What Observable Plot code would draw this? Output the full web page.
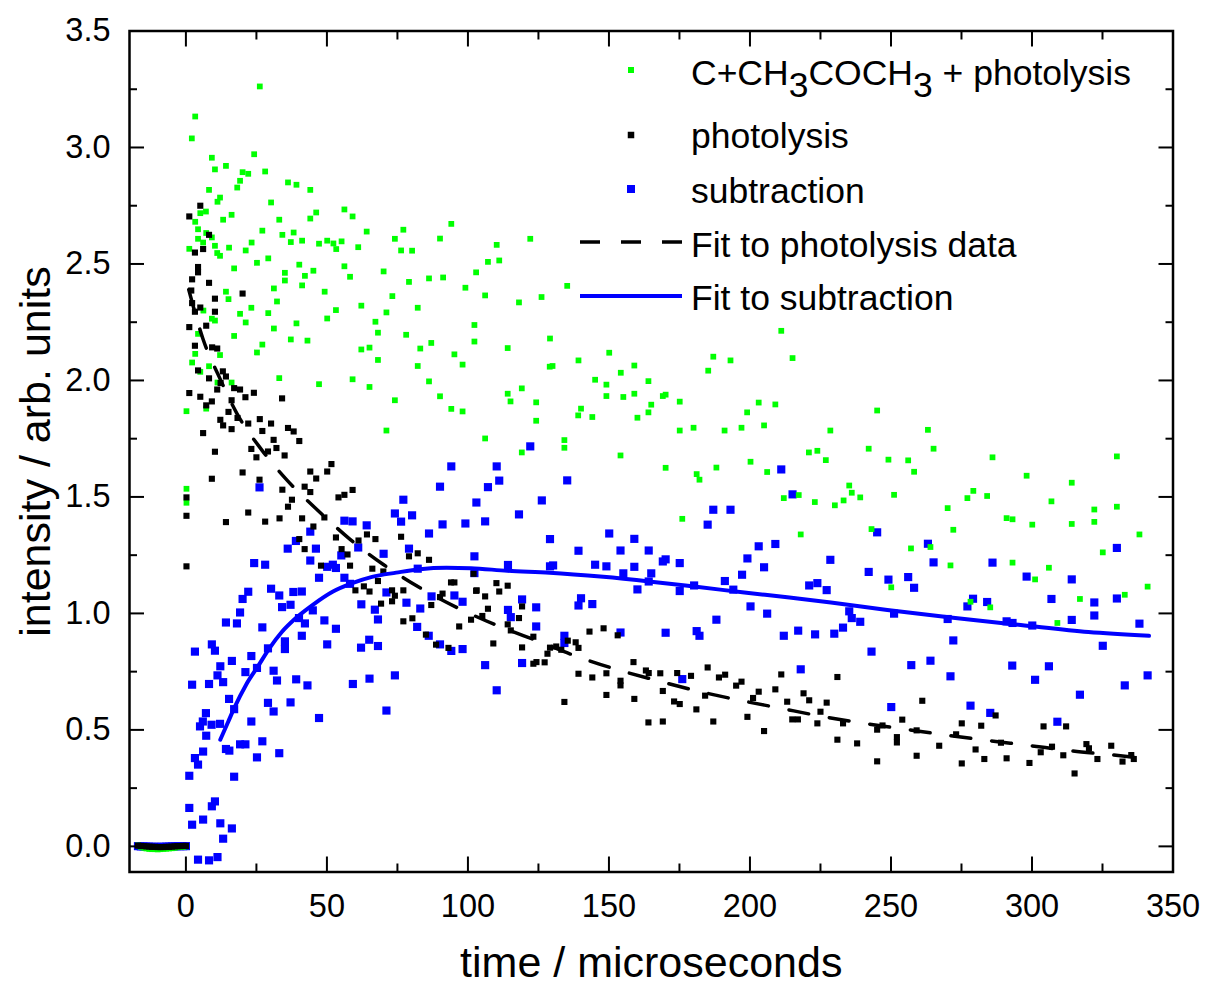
<!DOCTYPE html>
<html><head><meta charset="utf-8">
<script src="https://cdn.jsdelivr.net/npm/d3@7"></script>
<script src="https://cdn.jsdelivr.net/npm/@observablehq/plot@0.6"></script>
<style>
html,body{margin:0;padding:0;background:#fff;}
#chart{position:relative;width:1205px;height:986px;}
#chart svg{position:absolute;left:0;top:0;}
</style></head>
<body><div id="chart"></div>
<script>
// ---------- data (time in microseconds, intensity in arb. units) ----------
const seriesNames = ["C+CH3COCH3 + photolysis", "photolysis", "subtraction", "Fit to photolysis data", "Fit to subtraction"];

const xMajorTicks = [0, 50, 100, 150, 200, 250, 300, 350];
const xMinorTicks = [25, 75, 125, 175, 225, 275, 325];
const yMajorTicks = [0, 0.5, 1, 1.5, 2, 2.5, 3, 3.5];
const yMinorTicks = [0.25, 0.75, 1.25, 1.75, 2.25, 2.75, 3.25];

const baselineT = [-17,-16,-15,-14,-13,-12,-11,-10,-9,-8,-7,-6,-5,-4,-3,-2,-1,0];
const greenBase = [0.004,-0.002,-0.006,-0.009,-0.011,-0.012,-0.012,-0.013,-0.012,-0.011,-0.010,-0.009,-0.008,-0.006,-0.004,-0.003,-0.002,0.000];
const blackBase = [0.003,0.002,0.001,0.000,-0.001,-0.002,-0.002,-0.003,-0.003,-0.003,-0.002,-0.002,-0.001,0.000,0.001,0.001,0.002,0.002];
const blueBase  = [0.001,0.000,0.000,-0.001,-0.001,-0.002,-0.002,-0.002,-0.002,-0.002,-0.001,-0.001,0.000,0.000,0.001,0.001,0.001,0.001];

const greenPts = [
[26.2,3.262],[3.3,3.133],[2.1,3.039],[24.2,2.971],[9.2,2.956],[14.2,2.921],[10.3,2.906],[20.1,2.894],[22.1,2.887],[28.1,2.897],
[19.2,2.857],[18.2,2.828],[8.2,2.818],[36.2,2.85],[39.2,2.84],[44.1,2.818],[12.1,2.785],[11.2,2.767],[30.2,2.764],[7.1,2.725],
[5.1,2.718],[16.2,2.711],[13.2,2.69],[3.3,2.681],[33.1,2.69],[56.2,2.734],[59.1,2.704],[46.2,2.721],[44.1,2.695],[94.1,2.672],
[4.3,2.649],[27.1,2.643],[34.2,2.625],[38.2,2.635],[64.1,2.639],[77.1,2.647],[7.2,2.633],[9.2,2.614],[4.3,2.608],[6.1,2.592],
[23.3,2.592],[37.2,2.594],[41.2,2.6],[90.1,2.609],[74.1,2.608],[47.2,2.587],[50.1,2.6],[52.3,2.588],[55.2,2.597],[53.3,2.564],
[61.1,2.572],[10.3,2.578],[15.3,2.57],[21.2,2.558],[76.3,2.558],[80.2,2.557],[11.1,2.547],[12.1,2.535],[1.2,2.565],[25.2,2.505],
[29.2,2.524],[40.2,2.497],[17.1,2.481],[56.2,2.49],[35.1,2.462],[42.2,2.449],[45.2,2.471],[70.1,2.468],[102.9,2.464],[35.1,2.429],
[58.2,2.445],[79.1,2.423],[86.2,2.438],[91.2,2.442],[99.1,2.398],[41.2,2.408],[31.2,2.395],[14.2,2.381],[49.2,2.381],[15.1,2.349],
[73.2,2.362],[32.3,2.339],[62.2,2.321],[6.2,2.3],[23.2,2.312],[19.2,2.286],[29.2,2.289],[53.2,2.302],[71.1,2.292],[82.2,2.312],
[9.2,2.265],[10.3,2.257],[21.2,2.249],[39.2,2.245],[50.1,2.266],[67.2,2.252],[102.3,2.238],[31.2,2.223],[4.3,2.2],[17.1,2.191],
[37.2,2.176],[43.1,2.171],[68.1,2.205],[78.1,2.196],[102.3,2.167],[27.1,2.154],[62.2,2.133],[65.1,2.141],[83.1,2.137],[87,2.161],
[3.3,2.114],[12.1,2.109],[25.2,2.12],[68.1,2.088],[95.2,2.112],[2.2,2.077],[8.2,2.061],[82.2,2.062],[98.1,2.068],[5.1,2.037],
[33.1,2.01],[16.2,1.991],[11.2,1.991],[47.2,1.984],[59.1,2.005],[65.1,1.972],[86.2,1.996],[90.1,1.932],[74.1,1.915],[94.1,1.878],
[98.1,1.867],[0.2,1.868],[7.2,1.879],[71.1,1.785],[0.2,1.535],[0.2,1.475],
[110.2,2.582],[122.1,2.608],[107.1,2.509],[111.1,2.515],[106.1,2.365],[118.1,2.335],[126.1,2.358],[135.2,2.406],[114.1,2.139],[129.1,2.18],
[211.1,2.213],[150.1,2.119],[139.2,2.086],[187,2.102],[193.1,2.086],[215.1,2.096],[185.2,2.042],[129,2.059],[130,2.062],[159,2.064],
[154.2,2.033],[145.1,2.003],[149.1,1.982],[164,1.997],[114.1,1.943],[119.1,1.966],[115.1,1.91],[124.2,1.906],[149.1,1.933],[155.1,1.929],
[159,1.943],[169.1,1.933],[170.1,1.939],[175.1,1.909],[203.1,1.905],[209,1.897],[165,1.896],[164,1.863],[199,1.863],[140.1,1.879],
[139.1,1.85],[144.1,1.843],[160.1,1.84],[124.2,1.827],[175.1,1.785],[180,1.797],[191,1.785],[197,1.797],[205,1.807],[228.5,1.785],
[106.1,1.751],[134.2,1.744],[134.2,1.711],[119.1,1.691],[154.1,1.678],[220.9,1.691],[223.9,1.698],[226.9,1.658],[200.2,1.651],[170.1,1.625],
[188.1,1.626],[206.1,1.607],[181.1,1.598],[182.1,1.574],[217.3,1.508],[212,1.495],[223,1.478],[176,1.406],[218,1.339],
[245.1,1.871],[242.1,1.707],[249.1,1.66],[256.1,1.657],[258.2,1.608],[263.1,1.788],[265.1,1.707],[286,1.67],[330.1,1.674],[298.1,1.591],
[314.1,1.561],[235.2,1.549],[236.1,1.518],[239.1,1.498],[233.2,1.485],[230.1,1.464],[251.1,1.509],[270.1,1.452],[277.1,1.495],[279.2,1.526],
[284.1,1.504],[306.9,1.481],[322.1,1.446],[330.1,1.458],[291,1.409],[293.1,1.404],[300.1,1.381],[314.1,1.384],[322.1,1.393],[272.1,1.359],
[243.1,1.362],[338.1,1.339],[257.1,1.279],[264,1.285],[325.1,1.262],[271.1,1.206],[293.1,1.218],[306,1.196],[301.1,1.146],[250.1,1.112],
[341,1.115],[332.9,1.08],[317,1.062],[278.2,1.05],[285.2,1.026],[309,0.959]
];

const blackPts = [
[5.1,2.75],[1.2,2.704],[8.2,2.625],[3.2,2.549],[6.1,2.564],[4.3,2.487],[4.3,2.464],[2.2,2.434],[8.2,2.419],[1.9,2.386],
[2.2,2.332],[10.3,2.351],[20.1,2.373],[5.1,2.313],[3.2,2.295],[10.3,2.295],[1.2,2.229],[7.2,2.235],[3.2,2.149],[9.3,2.142],
[11.1,2.137],[4.3,2.043],[8.2,2.009],[13.1,2.039],[14.2,2.017],[12.3,1.989],[1.2,1.946],[5.1,1.93],[7.2,1.893],[9.2,1.91],
[17.1,1.967],[19.2,1.961],[24.1,1.947],[11.1,1.961],[16.2,1.915],[21.1,1.928],[34.1,1.923],[15.1,1.865],[12.2,1.831],[13.2,1.807],
[18.3,1.839],[22.1,1.815],[26.2,1.834],[30.2,1.815],[6.1,1.774],[16.2,1.791],[27.1,1.783],[36.2,1.796],[38.2,1.781],[40.2,1.74],
[31.1,1.745],[10.3,1.694],[23.2,1.706],[25,1.67],[29.1,1.695],[32.1,1.71],[35,1.678],
[0.2,1.498],[0.2,1.419],[0.2,1.202],[9.2,1.578],[20.1,1.605],[26.1,1.574],[44.1,1.609],[46.2,1.579],[50.1,1.609],[51.6,1.641],
[34.2,1.531],[42.1,1.544],[44.1,1.521],[37.6,1.488],[36.2,1.458],[22.1,1.433],[14.2,1.392],[28.1,1.394],[33.2,1.408],[41.2,1.408],
[54.1,1.498],[56.2,1.509],[59.1,1.53],[45.2,1.373],[49.1,1.412],[40.2,1.319],[42.1,1.276],[53.2,1.326],[55.2,1.276],[57.3,1.253],
[61.2,1.313],[64.2,1.339],[67.2,1.319],[76.3,1.329],[79.1,1.245],[82.2,1.258],[86.2,1.23],[47.9,1.205],[58.2,1.205],[66.1,1.192],
[70,1.18],[68.1,1.139],[60.1,1.099],[63.1,1.116],[65.1,1.094],[73.1,1.099],[74.1,1.076],[73.1,1.052],[77.1,1.099],[69.2,1.042],
[87,1.036],[90.1,1.07],[91,1.085],[94,1.133],[95.2,1.133],[102.9,1.097],[101.1,0.973],[96.9,0.944],[77.1,0.966],[80.3,0.979],
[85.1,0.909],[88.7,0.866],[93.1,0.852],
[102,1.17],[110.1,1.13],[114.1,1.119],[111.1,1.094],[103.1,1.099],[106.1,1.073],[105.1,0.989],[107.1,1.02],[118.1,0.98],[119.2,1.03],
[114.1,0.953],[115.2,0.927],[109,0.871],[119.2,0.854],[123.2,0.9],[129.1,0.853],[131.3,0.858],[133.1,0.844],[128.2,0.827],[135.4,0.883],
[138.2,0.876],[139.2,0.852],[123.2,0.784],[124.3,0.791],[127.2,0.79],[134.2,0.62],[139.2,0.741],[143.1,0.922],[148.1,0.936],[153.1,0.906],
[144.1,0.725],[149.1,0.743],[149.1,0.65],[154.1,0.711],[154.1,0.691],[159,0.633],[158.7,0.791],[163.1,0.755],[164.1,0.744],[168.2,0.743],
[169.1,0.667],[164,0.532],[169.1,0.536],[173.1,0.622],[175.1,0.611],[174.2,0.744],[179.1,0.732],[181,0.588],[185,0.768],[184.1,0.647],
[187,0.536],[189,0.725],[191.2,0.737],[195.1,0.69],[197,0.707],[199.1,0.556],[201.1,0.637],[203.1,0.664],[205,0.495],[209,0.674],
[211.1,0.738],[213.2,0.621],[215,0.545],[217,0.545],[219,0.657],[221,0.627],[223.9,0.528],[225,0.578],[227.2,0.617],
[231,0.727],[233,0.528],[231,0.458],[238,0.442],[247,0.519],[245.1,0.501],[245.1,0.365],[254,0.544],[252.1,0.469],[252.1,0.446],
[259.1,0.498],[259.1,0.389],[261.1,0.625],[267.1,0.432],[273.1,0.481],[275.1,0.528],[275.1,0.356],[280,0.416],[282,0.518],[283.1,0.375],
[287.1,0.562],[289,0.445],[291,0.378],[299.1,0.358],[303.1,0.404],[304.1,0.515],[307.1,0.428],[312.1,0.515],[311.1,0.391],[315.1,0.313],
[319.3,0.439],[320.2,0.421],[323.2,0.375],[328.1,0.432],[332.1,0.364],[335.2,0.392],[336.1,0.375]
];

const bluePts = [
[26.1,1.541],[36.1,1.278],[39,1.311],[44.1,1.351],[46.1,1.278],[44.1,1.227],[56.2,1.398],[59.1,1.395],[64.1,1.378],[55.1,1.249],
[50.1,1.2],[52.1,1.209],[53.2,1.195],[47.2,1.153],[56.2,1.153],[58.2,1.127],[61.1,1.283],[70.1,1.256],[77.1,1.488],[74.1,1.429],
[76.3,1.394],[80.2,1.421],[90.1,1.544],[94.1,1.631],[91,1.382],[86.2,1.343],[79.1,1.278],[82.2,1.192],[103,1.476],[99.1,1.386],
[102.3,1.245],[102.3,1.173],[71.1,1.09],[62.2,1.039],[67,1.016],[68.1,0.974],[78.2,1.046],[83.1,1.021],[87.1,1.073],[95.2,1.077],
[98.1,1.05],[82,0.942],[86.1,0.904],[90.1,0.867],[94.1,0.839],[98.1,0.847],[65,0.887],[62.1,0.853],[68.1,0.86],[50.1,0.867],
[41.1,0.904],[42.2,0.957],[49.1,0.97],[53.2,0.934],[45,1.013],[40.1,0.98],[37.1,1.037],[34.1,1.027],[33.1,1.077],[30.2,1.106],
[38.1,1.092],[41.1,1.094],[22.1,1.093],[20.1,1.062],[19.2,1.004],[14.2,0.961],[18.1,0.957],[27.1,0.94],[24.2,1.216],[28.1,1.209],
[35.1,0.88],[35.1,0.847],[29.1,0.85],[23.2,0.817],[9.2,0.867],[10.3,0.84],[3.2,0.836],[16.3,0.796],[12.2,0.773],[11.2,0.734],
[13.2,0.705],[8.2,0.697],[2.2,0.694],[21.1,0.748],[25.2,0.766],[31.1,0.754],[32.3,0.712],[39.1,0.717],[43.1,0.691],[59.2,0.697],
[65.1,0.72],[74.1,0.734],[15.3,0.633],[17.1,0.589],[29.1,0.616],[31.1,0.579],[37.1,0.618],[23.2,0.536],[47.2,0.551],[71.1,0.583],
[7.1,0.572],[6,0.536],[5,0.515],[9.1,0.522],[12.1,0.526],[7.2,0.475],[14.2,0.418],[15.4,0.411],[19.2,0.438],[21.1,0.438],
[27.1,0.451],[25.2,0.382],[33.1,0.4],[3.2,0.379],[6.1,0.407],[4.3,0.351],[1.2,0.303],[17.1,0.299],[1.2,0.165],[9.2,0.172],
[10.3,0.193],[2.2,0.093],[6.1,0.115],[12.2,0.099],[16.3,0.077],[13.2,0.033],[4.3,-0.057],[8.2,-0.06],[11.2,-0.046],
[122.1,1.717],[110.2,1.631],[111.1,1.57],[107.1,1.542],[106.1,1.395],[118.1,1.425],[126.2,1.485],[135.2,1.571],[211.1,1.618],[215.1,1.511],
[187,1.445],[193.1,1.445],[185,1.381],
[129.1,1.319],[150.1,1.343],[159,1.32],[139.2,1.269],[154.1,1.27],[164.1,1.27],[114.2,1.208],[129.1,1.202],[130.2,1.206],[145.1,1.209],
[149.1,1.202],[155.1,1.172],[159,1.2],[165,1.172],[164.1,1.137],[169.1,1.223],[170.1,1.232],[175.1,1.216],[160.1,1.103],[175.1,1.096],
[180.2,1.12],[191.1,1.139],[194.1,1.102],[197.2,1.166],[199.1,1.236],[203.1,1.288],[209,1.298],[205,1.198],[221,1.12],[223.9,1.13],
[227.2,1.1],[228.5,1.23],[119.2,1.06],[114.2,1.015],[115.2,0.984],[124.2,1.026],[124.2,0.944],[140.1,1.065],[139.2,1.034],[144.1,1.04],
[134.2,0.904],[134.2,0.873],[154.1,0.918],[170.1,0.917],[181.1,0.924],[182.1,0.904],[188.1,0.973],[200.2,1.03],[206.1,0.999],[212,0.904],
[217.1,0.926],[223.1,0.91],[218,0.76],[176,0.718],[106.1,0.778],[119.2,0.787],[110.2,0.67],
[245.1,1.348],[263.1,1.299],[265.1,1.219],[286,1.218],[330.1,1.281],[242.1,1.178],[249.1,1.145],[256.1,1.156],[258.2,1.11],[298.1,1.158],
[314.1,1.146],[279.1,1.063],[284.1,1.049],[277.1,1.03],[306.9,1.062],[330.1,1.064],[322.1,1.047],[322.1,0.991],[314.1,0.972],[338.1,0.956],
[235.2,1.009],[236.1,0.98],[239.1,0.964],[233,0.939],[229.9,0.913],[251.1,0.999],[270.1,0.976],[291,0.966],[293.1,0.959],[300.1,0.948],
[272.1,0.884],[325.1,0.861],[243.1,0.836],[257.2,0.778],[264,0.797],[293,0.776],[306,0.773],[301.1,0.715],[341,0.734],[332.9,0.691],
[317,0.651],[271.1,0.73],[250.1,0.598],[278.2,0.604],[285.2,0.573],[309,0.535]
];

const fitPhotolysis = [
[1,2.39],[6,2.18],[12,2.01],[18,1.86],[27,1.70],[36,1.57],[47,1.44],[58,1.32],[70,1.21],[83,1.11],
[97,1.02],[111,0.945],[125,0.88],[138,0.818],[152,0.762],[167,0.712],[181,0.668],[196,0.628],[210,0.595],[226,0.557],
[239,0.531],[254,0.505],[270,0.477],[284,0.455],[299,0.433],[314,0.41],[329,0.392],[338,0.38]
];

const fitSubtraction = [
[12.2,0.458],[15,0.535],[17,0.59],[21.4,0.695],[25.4,0.77],[29.6,0.85],[34,0.92],[39,0.98],[45,1.037],[52,1.093],
[59,1.13],[66,1.157],[74.6,1.175],[83,1.19],[92.4,1.196],[101,1.194],[114,1.183],[129,1.175],[148,1.157],[165,1.136],
[181,1.114],[198,1.09],[214,1.068],[228.7,1.047],[248.7,1.015],[272,0.981],[296,0.95],[320,0.92],[341.5,0.904]
];

// ---------- build tables ----------
const rows = (pts) => pts.map(([t, v]) => ({t, v}));
const base = (vals) => baselineT.map((t, i) => ({t, v: vals[i]}));
const greenData = base(greenBase).concat(rows(greenPts));
const blackData = base(blackBase).concat(rows(blackPts));
const blueData = base(blueBase).concat(rows(bluePts));

const FONT = "'Liberation Sans', Arial, Helvetica, sans-serif";
const GREEN = "#00ff00", BLUE = "#0000ff";

const chart = Plot.plot({
  width: 1205,
  height: 986,
  marginLeft: 129,
  marginRight: 32.5,
  marginTop: 30.5,
  marginBottom: 114.5,
  style: {fontFamily: FONT, background: "white", color: "black"},
  x: {domain: [-20, 350], label: null},
  y: {domain: [-0.11, 3.5], label: null},
  marks: [
    Plot.dot(blueData, {x: "t", y: "v", symbol: "square", r: 4.6, fill: BLUE}),
    Plot.dot(greenData, {x: "t", y: "v", symbol: "square", r: 3.25, fill: GREEN}),
    Plot.dot(blackData, {x: "t", y: "v", symbol: "square", r: 3.45, fill: "black"}),
    Plot.line(rows(fitPhotolysis), {x: "t", y: "v", stroke: "black", strokeWidth: 3.5, strokeDasharray: "20,21", curve: "monotone-x"}),
    Plot.line(rows(fitSubtraction), {x: "t", y: "v", stroke: BLUE, strokeWidth: 4, curve: "monotone-x"}),
    Plot.frame({stroke: "black", strokeWidth: 2.5}),
    Plot.axisX(xMajorTicks, {anchor: "bottom", tickSize: -15, tickPadding: 37, strokeWidth: 2, fontSize: 32.5, tickFormat: d => String(d), label: null}),
    Plot.axisX(xMinorTicks, {anchor: "bottom", tickSize: -8, strokeWidth: 2, tickFormat: () => "", label: null}),
    Plot.axisX(xMajorTicks, {anchor: "top", tickSize: -15, strokeWidth: 2, tickFormat: () => "", label: null}),
    Plot.axisX(xMinorTicks, {anchor: "top", tickSize: -8, strokeWidth: 2, tickFormat: () => "", label: null}),
    Plot.axisY(yMajorTicks, {anchor: "left", tickSize: -15, tickPadding: 34, strokeWidth: 2, fontSize: 32.5, tickFormat: d3.format(".1f"), label: null}),
    Plot.axisY(yMinorTicks, {anchor: "left", tickSize: -8, strokeWidth: 2, tickFormat: () => "", label: null}),
    Plot.axisY(yMajorTicks, {anchor: "right", tickSize: -15, strokeWidth: 2, tickFormat: () => "", label: null}),
    Plot.axisY(yMinorTicks, {anchor: "right", tickSize: -8, strokeWidth: 2, tickFormat: () => "", label: null}),
    Plot.text(["time / microseconds"], {text: d => d, frameAnchor: "bottom", textAnchor: "middle", lineAnchor: "bottom", dy: 105, fontSize: 43}),
    Plot.text(["intensity / arb. units"], {text: d => d, frameAnchor: "left", textAnchor: "middle", lineAnchor: "bottom", rotate: -90, dx: -80, fontSize: 43})
  ]
});

const holder = document.getElementById("chart");
holder.appendChild(chart);

// ---------- legend overlay (inside the plot frame, top-right) ----------
const leg = d3.create("svg")
  .attr("width", 1205).attr("height", 986)
  .style("pointer-events", "none")
  .style("font-family", FONT)
  .style("font-size", "35.5px");

const legendMarkers = [
  {cy: 70, size: 6, fill: GREEN},
  {cy: 135, size: 6.5, fill: "black"},
  {cy: 189, size: 8, fill: BLUE}
];
legendMarkers.forEach(m => {
  leg.append("rect").attr("x", 631 - m.size / 2).attr("y", m.cy - m.size / 2)
    .attr("width", m.size).attr("height", m.size).attr("fill", m.fill);
});
leg.append("line").attr("x1", 580).attr("x2", 682).attr("y1", 242).attr("y2", 242)
  .attr("stroke", "black").attr("stroke-width", 3.5).attr("stroke-dasharray", "20,21");
leg.append("line").attr("x1", 580).attr("x2", 682).attr("y1", 296).attr("y2", 296)
  .attr("stroke", BLUE).attr("stroke-width", 4);

// row 1 with subscripts
const t1 = leg.append("text").attr("x", 691).attr("y", 85).attr("fill", "black");
t1.append("tspan").text("C+CH");
t1.append("tspan").attr("dy", 12).text("3");
t1.append("tspan").attr("dy", -12).text("COCH");
t1.append("tspan").attr("dy", 12).text("3");
t1.append("tspan").attr("dy", -12).text(" + photolysis");

const legendRows = [
  {y: 148, label: seriesNames[1]},
  {y: 203, label: seriesNames[2]},
  {y: 257, label: seriesNames[3]},
  {y: 310, label: seriesNames[4]}
];
legendRows.forEach(r => {
  leg.append("text").attr("x", 691).attr("y", r.y).attr("fill", "black").text(r.label);
});
holder.appendChild(leg.node());
</script></body></html>
